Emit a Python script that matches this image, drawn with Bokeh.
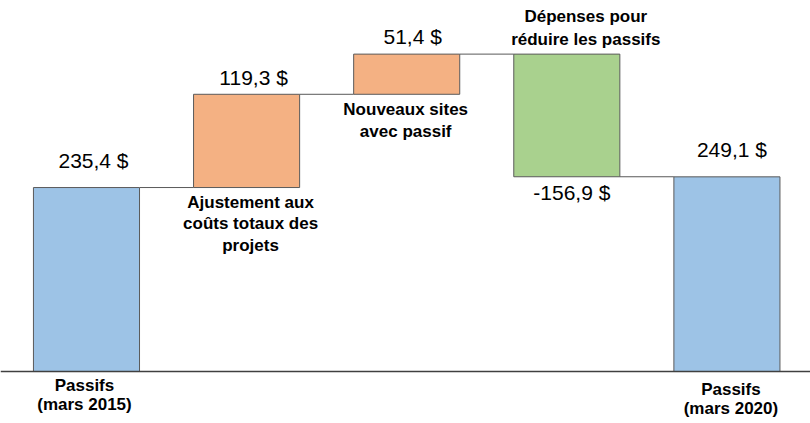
from bokeh.plotting import figure
from bokeh.models import Range1d, Span
from bokeh.core.properties import value
from bokeh.embed import file_html
from bokeh.resources import INLINE

# ---- data ----
categories = [
    "Passifs\n(mars 2015)",
    "Ajustement aux\ncoûts totaux des\nprojets",
    "Nouveaux sites\navec passif",
    "Dépenses pour\nréduire les passifs",
    "Passifs\n(mars 2020)",
]
amounts = [235.4, 119.3, 51.4, -156.9, 249.1]
kinds = ["total", "change", "change", "change", "total"]
value_labels = ["235,4 $", "119,3 $", "51,4 $", "-156,9 $", "249,1 $"]

# ---- styles ----
colors = ["#9DC3E6", "#F4B183", "#F4B183", "#A9D18E", "#9DC3E6"]
bar_width = 0.6625
val_x_off = [7, 7, 6, 5, 5]
val_gap = [27, 17, 18, 16, 27]
cat_x_off = [-2, 4, -1, 19, 4]
cat_y_off = [4, 5, 6, -5, 8]

# ---- waterfall geometry ----
xs = list(range(len(amounts)))
bottoms, tops, levels = [], [], []
running = 0.0
for a, k in zip(amounts, kinds):
    if k == "total":
        bottoms.append(0.0)
        tops.append(a)
        running = a
    else:
        lo, hi = sorted([running, running + a])
        bottoms.append(lo)
        tops.append(hi)
        running += a
    levels.append(running)

p = figure(width=810, height=423, output_backend="svg", toolbar_location=None,
           x_range=Range1d(-0.537, 4.522), y_range=Range1d(-66.5, 474.7),
           x_axis_type=None, y_axis_type=None, min_border=0)
p.outline_line_color = None
p.grid.visible = False
p.background_fill_color = "white"
p.border_fill_color = "white"

# connectors
p.segment(x0=[x + bar_width / 2 for x in xs[:-1]], y0=levels[:-1],
          x1=[x + 1 - bar_width / 2 for x in xs[:-1]], y1=levels[:-1],
          line_color="#595959", line_width=1)

p.vbar(x=xs, width=bar_width, bottom=bottoms, top=tops,
       fill_color=colors, line_color="#5A5A5A", line_width=1)

p.add_layout(Span(location=0, dimension="width", line_color="#404040", line_width=1.6))

# value labels
val_anchor, val_yoff = [], []
for i, a in enumerate(amounts):
    if a >= 0:
        val_anchor.append(tops[i]); val_yoff.append(-val_gap[i])
    else:
        val_anchor.append(bottoms[i]); val_yoff.append(val_gap[i])
p.text(x=xs, y=val_anchor, text=value_labels, x_offset=val_x_off, y_offset=val_yoff,
       text_align="center", text_baseline="alphabetic",
       text_font=value("Liberation Sans"), text_font_size="21px", text_color="black")

# category labels
mid_idx = [1, 2]
p.text(x=[xs[i] for i in mid_idx], y=[bottoms[i] for i in mid_idx],
       text=[categories[i] for i in mid_idx],
       x_offset=[cat_x_off[i] for i in mid_idx], y_offset=[cat_y_off[i] for i in mid_idx],
       text_align="center", text_baseline="top", text_line_height=1.15,
       text_font=value("Liberation Sans"), text_font_style="bold",
       text_font_size="17px", text_color="black")
p.text(x=[xs[3]], y=[tops[3]], text=[categories[3]],
       x_offset=[cat_x_off[3]], y_offset=[cat_y_off[3]],
       text_align="center", text_baseline="bottom", text_line_height=1.2,
       text_font=value("Liberation Sans"), text_font_style="bold",
       text_font_size="17px", text_color="black")
end_idx = [0, 4]
p.text(x=[xs[i] for i in end_idx], y=[0, 0], text=[categories[i] for i in end_idx],
       x_offset=[cat_x_off[i] for i in end_idx], y_offset=[cat_y_off[i] for i in end_idx],
       text_align="center", text_baseline="top", text_line_height=1.05,
       text_font=value("Liberation Sans"), text_font_style="bold",
       text_font_size="17px", text_color="black")

open("out.html", "w").write(file_html(p, INLINE))
